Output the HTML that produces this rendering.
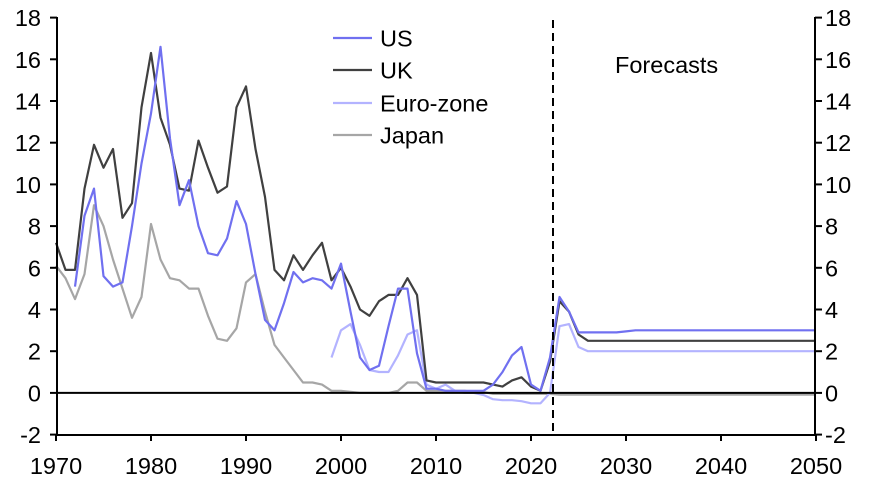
<!DOCTYPE html>
<html><head><meta charset="utf-8"><style>
body{margin:0;background:#fff}
svg text{font-family:"Liberation Sans",Arial,sans-serif;font-size:23.5px;fill:#000}
</style></head><body>
<svg id="s" width="871" height="477" xmlns="http://www.w3.org/2000/svg"></svg>
<script>
const X=y=>56+9.5*(y-1970), Y=v=>392.9-20.85*v;
const s=document.getElementById('s');let h='';
function ser(start,arr,tail,col){let p=[];arr.forEach((v,i)=>p.push([start+i,v]));
 if(tail){let last=p[p.length-1];for(let y=last[0]+1;y<=2050;y++)p.push([y,tail]);}
 h+=`<polyline fill="none" stroke="${col}" stroke-width="2.2" stroke-linejoin="round" points="${p.map(q=>X(q[0]).toFixed(1)+','+Y(q[1]).toFixed(1)).join(' ')}"/>`;}
ser(1970,[6.1,5.5,4.5,5.7,9.0,8.0,6.4,5.0,3.6,4.6,8.1,6.4,5.5,5.4,5.0,5.0,3.7,2.6,2.5,3.1,5.3,5.7,3.9,2.3,1.7,1.1,0.5,0.5,0.4,0.1,0.1,0.05,0,0,0,0,0.1,0.5,0.5,0.1,0.1,0.1,0.1,0.1,0.05,0.05,-0.05,-0.05,-0.05,-0.05,-0.05,-0.05,-0.05],-0.08,'#a6a6a6');
ser(1999,[1.7,3.0,3.3,2.3,1.1,1.0,1.0,1.8,2.8,3.0,0.4,0.2,0.4,0.1,0.0,0.0,-0.1,-0.3,-0.35,-0.35,-0.4,-0.5,-0.5,0.0,3.2,3.3,2.2],2.0,'#b3b3ff');
ser(1970,[7.2,5.9,5.9,9.8,11.9,10.8,11.7,8.4,9.1,13.7,16.3,13.2,11.9,9.8,9.7,12.1,10.8,9.6,9.9,13.7,14.7,11.7,9.4,5.9,5.4,6.6,5.9,6.6,7.2,5.4,6.0,5.1,4.0,3.7,4.4,4.7,4.7,5.5,4.7,0.6,0.5,0.5,0.5,0.5,0.5,0.5,0.4,0.3,0.6,0.75,0.3,0.1,1.5,4.4,3.9,2.8],2.5,'#404040');
ser(1972,[5.1,8.5,9.8,5.6,5.1,5.3,8.0,11.0,13.4,16.6,12.2,9.0,10.2,8.0,6.7,6.6,7.4,9.2,8.1,5.7,3.5,3.0,4.3,5.8,5.3,5.5,5.4,5.0,6.2,3.9,1.7,1.1,1.3,3.2,5.0,5.0,1.9,0.2,0.2,0.1,0.1,0.1,0.1,0.1,0.4,1.0,1.8,2.2,0.4,0.1,1.7,4.6,3.9,2.9,2.9,2.9,2.9,2.9,2.95,3.0],3.0,'#7070f0');
h+=`<line x1="57" y1="392.9" x2="815" y2="392.9" stroke="#000" stroke-width="2"/>`;
h+=`<line x1="57" y1="17" x2="57" y2="435" stroke="#000" stroke-width="2"/><line x1="815" y1="17" x2="815" y2="435" stroke="#000" stroke-width="2"/><line x1="56" y1="435" x2="816" y2="435" stroke="#000" stroke-width="2"/>`;
for(let v=-2;v<=18;v+=2){const y=Y(v);h+=`<line x1="50" y1="${y}" x2="57" y2="${y}" stroke="#000" stroke-width="2"/><line x1="815" y1="${y}" x2="822" y2="${y}" stroke="#000" stroke-width="2"/>`;
h+=`<text x="41" y="${y+8.5}" text-anchor="end">${v}</text><text x="825" y="${y+8.5}">${v}</text>`;}
for(let yr=1970;yr<=2050;yr+=10){const x=X(yr);h+=`<line x1="${x}" y1="435" x2="${x}" y2="441" stroke="#000" stroke-width="2"/><text x="${x}" y="474" text-anchor="middle">${yr}</text>`;}
h+=`<line x1="553" y1="20" x2="553" y2="435" stroke="#000" stroke-width="2" stroke-dasharray="8,5"/>`;
h+=`<text x="615" y="73">Forecasts</text>`;
[['US','#7070f0',38],['UK','#404040',70],['Euro-zone','#b3b3ff',103],['Japan','#a6a6a6',135]].forEach(l=>{
h+=`<line x1="333" y1="${l[2]}" x2="372" y2="${l[2]}" stroke="${l[1]}" stroke-width="2.2"/><text x="380" y="${l[2]+8.5}">${l[0]}</text>`;});
s.innerHTML=h;
</script>
</body></html>
